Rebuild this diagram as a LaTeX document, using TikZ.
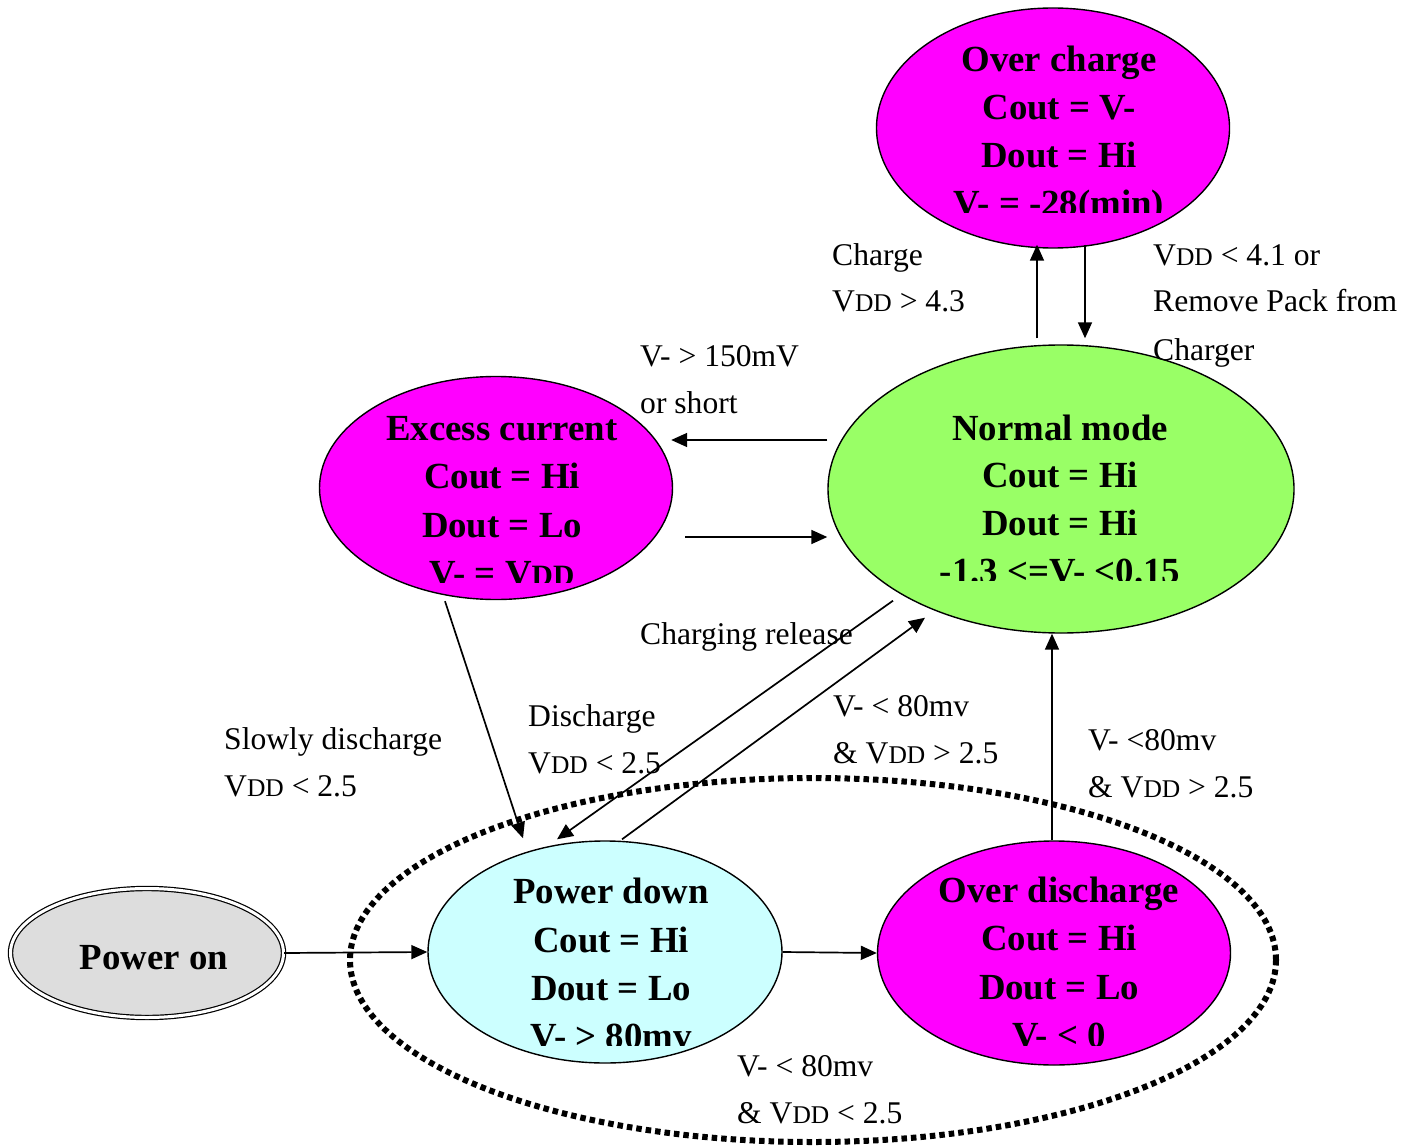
\documentclass[tikz,border=0pt]{standalone}
\usepackage{fontspec}
\setmainfont{Liberation Serif}
\usetikzlibrary{shapes.geometric,arrows.meta}
\definecolor{mag}{HTML}{FF00FF}
\definecolor{grn}{HTML}{99FF66}
\definecolor{cyn}{HTML}{CCFFFF}
\definecolor{gry}{HTML}{DDDDDD}
\newcommand\vddr{V{\fontsize{25.5}{26}\selectfont DD}}
\newcommand\vddb{V{\fontsize{29.5}{30}\selectfont DD}}
\tikzset{
  state/.style={ellipse, draw=black, line width=1.4pt, inner sep=0pt},
  ttl/.style={anchor=base, inner sep=0pt, font=\bfseries\fontsize{36.8}{44}\selectfont},
  lbl/.style={anchor=base west, inner sep=0pt, font=\fontsize{31.6}{38}\selectfont},
  arr/.style={-{Triangle[length=16pt,width=14pt]}, line width=1.7pt},
  group/.style={draw=black, line width=6pt, dash pattern=on 5.5pt off 4pt}
}
\begin{document}
\begin{tikzpicture}[x=1pt,y=-1pt]
\useasboundingbox (0,0) rectangle (1415,1147);

% states
\node[state, fill=mag, minimum width=353pt, minimum height=240pt] (oc) at (1053,128) {};
\node[state, fill=grn, minimum width=466pt, minimum height=288pt] (nm) at (1061,489) {};
\node[state, fill=mag, minimum width=353pt, minimum height=223pt] (ex) at (496,488) {};
\node[state, fill=cyn, minimum width=354pt, minimum height=222pt] (pd) at (605,952) {};
\node[state, fill=mag, minimum width=353pt, minimum height=224pt] (od) at (1054,953) {};
\node[ellipse, draw=black, line width=1.2pt, double=white, double distance=3pt, fill=gry,
      inner sep=0pt, minimum width=273pt, minimum height=129pt] (po) at (147,953) {};

% state texts
\node[ttl] (oc1) at (1059,72) {Over charge};
\node[ttl] (oc2) at (1059,120) {Cout = V-};
\node[ttl] (oc3) at (1059,168) {Dout = Hi};
\begin{scope}
  \clip (850,180) rectangle (1260,213);
  \node[ttl] (oc4) at (1059,216) {V- = -28(min)};
\end{scope}

\node[ttl] (nm1) at (1060,440) {Normal mode};
\node[ttl] (nm2) at (1060,487) {Cout = Hi};
\node[ttl] (nm3) at (1060,535) {Dout = Hi};
\begin{scope}
  \clip (850,545) rectangle (1270,580);
  \node[ttl] (nm4) at (1060,583) {-1.3 <=V- <0.15};
\end{scope}

\node[ttl] (ex1) at (502,440) {Excess current};
\node[ttl] (ex2) at (502,488) {Cout = Hi};
\node[ttl] (ex3) at (502,537) {Dout = Lo};
\begin{scope}
  \clip (330,547) rectangle (670,582);
  \node[ttl] (ex4) at (502,585) {V- = \vddb};
\end{scope}

\node[ttl] (pd1) at (611,903) {Power down};
\node[ttl] (pd2) at (611,952) {Cout = Hi};
\node[ttl] (pd3) at (611,1000) {Dout = Lo};
\begin{scope}
  \clip (440,1010) rectangle (780,1045);
  \node[ttl] (pd4) at (611,1048) {V- > 80mv};
\end{scope}

\node[ttl] (od1) at (1059,902) {Over discharge};
\node[ttl] (od2) at (1059,950) {Cout = Hi};
\node[ttl] (od3) at (1059,999) {Dout = Lo};
\begin{scope}
  \clip (890,1010) rectangle (1230,1045);
  \node[ttl] (od4) at (1059,1047) {V- < 0};
\end{scope}

\node[ttl] (po1) at (154,969) {Power on};

% arrows
\draw[arr] ([xshift=-24pt,yshift=6pt]nm.north) -- ([xshift=-16pt,yshift=4pt]oc.south);
\draw[arr] ([xshift=32pt,yshift=4pt]oc.south) -- ([xshift=24pt,yshift=6pt]nm.north);
\draw[arr] ([yshift=49pt]nm.west) -- ([xshift=-2pt,yshift=48pt]ex.east);
\draw[arr] ([xshift=12pt,yshift=-49pt]ex.east) -- ([yshift=-48pt]nm.west);
\draw[arr] ([xshift=-51pt,yshift=-1pt]ex.south) -- ([xshift=-82pt,yshift=2pt]pd.north);
\draw[arr] ([xshift=-168pt,yshift=33pt]nm.south) -- ([xshift=-48pt,yshift=1pt]pd.north);
\draw[arr] ([xshift=17pt,yshift=1pt]pd.north) -- ([xshift=-136pt,yshift=16pt]nm.south);
\draw[arr] ([xshift=-2pt]od.north) -- ([xshift=-9pt]nm.south);
\draw[arr] (po.east) -- (pd.west);
\draw[arr] (pd.east) -- (od.west);

% group ellipse
\draw[group] (813,960) ellipse [x radius=463pt, y radius=182pt];

% labels
\node[lbl] (l1a) at (832,266) {Charge};
\node[lbl] (l1b) at (832,312) {\vddr{} > 4.3};
\node[lbl] (l2a) at (1153,266) {\vddr{} < 4.1 or};
\node[lbl] (l2b) at (1153,312) {Remove Pack from};
\node[lbl] (l2c) at (1153,360) {Charger};
\node[lbl] (l3a) at (640,366) {V- > 150mV};
\node[lbl] (l3b) at (640,413) {or short};
\node[lbl] (l4) at (640,644) {Charging release};
\node[lbl] (l5a) at (528,726) {Discharge};
\node[lbl] (l5b) at (528,773) {\vddr{} < 2.5};
\node[lbl] (l6a) at (224,749) {Slowly discharge};
\node[lbl] (l6b) at (224,796) {\vddr{} < 2.5};
\node[lbl] (l7a) at (833,716) {V- < 80mv};
\node[lbl] (l7b) at (833,763) {\& \vddr{} > 2.5};
\node[lbl] (l8a) at (1088,750) {V- <80mv};
\node[lbl] (l8b) at (1088,797) {\& \vddr{} > 2.5};
\node[lbl] (l9a) at (737,1076) {V- < 80mv};
\node[lbl] (l9b) at (737,1123) {\& \vddr{} < 2.5};
\end{tikzpicture}
\end{document}
